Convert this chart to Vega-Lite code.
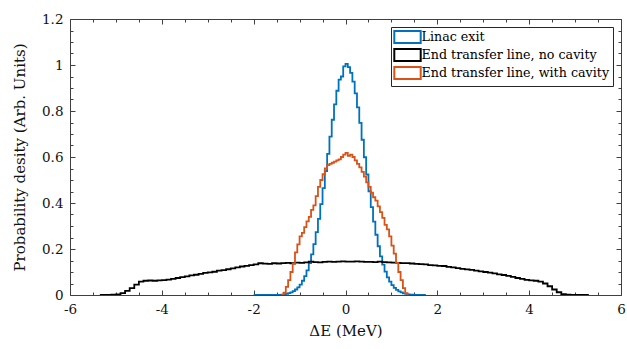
{
  "$schema": "https://vega.github.io/schema/vega-lite/v6.json",
  "width": 551,
  "height": 276,
  "autosize": {"type": "none"},
  "padding": {"left": 70, "top": 19, "right": 6, "bottom": 54},
  "background": "white",
  "config": {
    "view": {"stroke": null},
    "font": "DejaVu Serif",
    "axis": {"grid": false, "domainColor": "#404040", "domainWidth": 1, "tickColor": "#404040", "tickWidth": 1, "labelFont": "DejaVu Serif", "labelFontSize": 13.5, "labelColor": "#111111", "titleFont": "DejaVu Serif", "titleFontSize": 15, "titleFontWeight": "normal", "titleColor": "#111111", "labelOverlap": false, "labelFlush": false},
    "legend": {"labelFont": "DejaVu Serif"}
  },
  "datasets": {
    "h": [
      {"s": "Linac exit", "x": -2, "y": 0},
      {"s": "Linac exit", "x": -1.4, "y": 0.002},
      {"s": "Linac exit", "x": -1.35, "y": 0.003},
      {"s": "Linac exit", "x": -1.3, "y": 0.005},
      {"s": "Linac exit", "x": -1.25, "y": 0.008},
      {"s": "Linac exit", "x": -1.2, "y": 0.011},
      {"s": "Linac exit", "x": -1.15, "y": 0.017},
      {"s": "Linac exit", "x": -1.1, "y": 0.024},
      {"s": "Linac exit", "x": -1.05, "y": 0.033},
      {"s": "Linac exit", "x": -1.0, "y": 0.045},
      {"s": "Linac exit", "x": -0.95, "y": 0.062},
      {"s": "Linac exit", "x": -0.9, "y": 0.082},
      {"s": "Linac exit", "x": -0.85, "y": 0.107},
      {"s": "Linac exit", "x": -0.8, "y": 0.139},
      {"s": "Linac exit", "x": -0.75, "y": 0.177},
      {"s": "Linac exit", "x": -0.7, "y": 0.221},
      {"s": "Linac exit", "x": -0.65, "y": 0.273},
      {"s": "Linac exit", "x": -0.6, "y": 0.331},
      {"s": "Linac exit", "x": -0.55, "y": 0.395},
      {"s": "Linac exit", "x": -0.5, "y": 0.465},
      {"s": "Linac exit", "x": -0.45, "y": 0.539},
      {"s": "Linac exit", "x": -0.4, "y": 0.614},
      {"s": "Linac exit", "x": -0.35, "y": 0.689},
      {"s": "Linac exit", "x": -0.3, "y": 0.762},
      {"s": "Linac exit", "x": -0.25, "y": 0.829},
      {"s": "Linac exit", "x": -0.2, "y": 0.888},
      {"s": "Linac exit", "x": -0.15, "y": 0.936},
      {"s": "Linac exit", "x": -0.1, "y": 0.95},
      {"s": "Linac exit", "x": -0.05, "y": 0.994},
      {"s": "Linac exit", "x": 0.0, "y": 1.005},
      {"s": "Linac exit", "x": 0.05, "y": 0.991},
      {"s": "Linac exit", "x": 0.1, "y": 0.966},
      {"s": "Linac exit", "x": 0.15, "y": 0.928},
      {"s": "Linac exit", "x": 0.2, "y": 0.877},
      {"s": "Linac exit", "x": 0.25, "y": 0.816},
      {"s": "Linac exit", "x": 0.3, "y": 0.748},
      {"s": "Linac exit", "x": 0.35, "y": 0.675},
      {"s": "Linac exit", "x": 0.4, "y": 0.599},
      {"s": "Linac exit", "x": 0.45, "y": 0.524},
      {"s": "Linac exit", "x": 0.5, "y": 0.451},
      {"s": "Linac exit", "x": 0.55, "y": 0.382},
      {"s": "Linac exit", "x": 0.6, "y": 0.319},
      {"s": "Linac exit", "x": 0.65, "y": 0.262},
      {"s": "Linac exit", "x": 0.7, "y": 0.212},
      {"s": "Linac exit", "x": 0.75, "y": 0.168},
      {"s": "Linac exit", "x": 0.8, "y": 0.132},
      {"s": "Linac exit", "x": 0.85, "y": 0.102},
      {"s": "Linac exit", "x": 0.9, "y": 0.077},
      {"s": "Linac exit", "x": 0.95, "y": 0.058},
      {"s": "Linac exit", "x": 1.0, "y": 0.043},
      {"s": "Linac exit", "x": 1.05, "y": 0.031},
      {"s": "Linac exit", "x": 1.1, "y": 0.022},
      {"s": "Linac exit", "x": 1.15, "y": 0.016},
      {"s": "Linac exit", "x": 1.2, "y": 0.011},
      {"s": "Linac exit", "x": 1.25, "y": 0.007},
      {"s": "Linac exit", "x": 1.3, "y": 0.005},
      {"s": "Linac exit", "x": 1.35, "y": 0.003},
      {"s": "Linac exit", "x": 1.4, "y": 0.002},
      {"s": "Linac exit", "x": 1.45, "y": 0.001},
      {"s": "Linac exit", "x": 1.5, "y": 0},
      {"s": "Linac exit", "x": 1.75, "y": 0},

      {"s": "End transfer line, no cavity", "x": -5.35, "y": 0},
      {"s": "End transfer line, no cavity", "x": -5.1, "y": 0.001},
      {"s": "End transfer line, no cavity", "x": -5.0, "y": 0.003},
      {"s": "End transfer line, no cavity", "x": -4.9, "y": 0.008},
      {"s": "End transfer line, no cavity", "x": -4.8, "y": 0.018},
      {"s": "End transfer line, no cavity", "x": -4.7, "y": 0.03},
      {"s": "End transfer line, no cavity", "x": -4.6, "y": 0.045},
      {"s": "End transfer line, no cavity", "x": -4.5, "y": 0.058},
      {"s": "End transfer line, no cavity", "x": -4.4, "y": 0.062},
      {"s": "End transfer line, no cavity", "x": -4.3, "y": 0.063},
      {"s": "End transfer line, no cavity", "x": -4.2, "y": 0.062},
      {"s": "End transfer line, no cavity", "x": -4.1, "y": 0.064},
      {"s": "End transfer line, no cavity", "x": -4.0, "y": 0.065},
      {"s": "End transfer line, no cavity", "x": -3.9, "y": 0.067},
      {"s": "End transfer line, no cavity", "x": -3.8, "y": 0.07},
      {"s": "End transfer line, no cavity", "x": -3.7, "y": 0.074},
      {"s": "End transfer line, no cavity", "x": -3.6, "y": 0.078},
      {"s": "End transfer line, no cavity", "x": -3.5, "y": 0.081},
      {"s": "End transfer line, no cavity", "x": -3.4, "y": 0.085},
      {"s": "End transfer line, no cavity", "x": -3.3, "y": 0.088},
      {"s": "End transfer line, no cavity", "x": -3.2, "y": 0.092},
      {"s": "End transfer line, no cavity", "x": -3.1, "y": 0.096},
      {"s": "End transfer line, no cavity", "x": -3.0, "y": 0.098},
      {"s": "End transfer line, no cavity", "x": -2.9, "y": 0.101},
      {"s": "End transfer line, no cavity", "x": -2.8, "y": 0.106},
      {"s": "End transfer line, no cavity", "x": -2.7, "y": 0.108},
      {"s": "End transfer line, no cavity", "x": -2.6, "y": 0.112},
      {"s": "End transfer line, no cavity", "x": -2.5, "y": 0.116},
      {"s": "End transfer line, no cavity", "x": -2.4, "y": 0.12},
      {"s": "End transfer line, no cavity", "x": -2.3, "y": 0.124},
      {"s": "End transfer line, no cavity", "x": -2.2, "y": 0.127},
      {"s": "End transfer line, no cavity", "x": -2.1, "y": 0.13},
      {"s": "End transfer line, no cavity", "x": -2.0, "y": 0.133},
      {"s": "End transfer line, no cavity", "x": -1.9, "y": 0.138},
      {"s": "End transfer line, no cavity", "x": -1.8, "y": 0.136},
      {"s": "End transfer line, no cavity", "x": -1.7, "y": 0.135},
      {"s": "End transfer line, no cavity", "x": -1.6, "y": 0.138},
      {"s": "End transfer line, no cavity", "x": -1.5, "y": 0.137},
      {"s": "End transfer line, no cavity", "x": -1.4, "y": 0.139},
      {"s": "End transfer line, no cavity", "x": -1.3, "y": 0.14},
      {"s": "End transfer line, no cavity", "x": -1.2, "y": 0.138},
      {"s": "End transfer line, no cavity", "x": -1.1, "y": 0.141},
      {"s": "End transfer line, no cavity", "x": -1.0, "y": 0.14},
      {"s": "End transfer line, no cavity", "x": -0.9, "y": 0.142},
      {"s": "End transfer line, no cavity", "x": -0.8, "y": 0.145},
      {"s": "End transfer line, no cavity", "x": -0.7, "y": 0.143},
      {"s": "End transfer line, no cavity", "x": -0.6, "y": 0.142},
      {"s": "End transfer line, no cavity", "x": -0.5, "y": 0.144},
      {"s": "End transfer line, no cavity", "x": -0.4, "y": 0.145},
      {"s": "End transfer line, no cavity", "x": -0.3, "y": 0.144},
      {"s": "End transfer line, no cavity", "x": -0.2, "y": 0.145},
      {"s": "End transfer line, no cavity", "x": -0.1, "y": 0.146},
      {"s": "End transfer line, no cavity", "x": 0.0, "y": 0.145},
      {"s": "End transfer line, no cavity", "x": 0.1, "y": 0.145},
      {"s": "End transfer line, no cavity", "x": 0.2, "y": 0.146},
      {"s": "End transfer line, no cavity", "x": 0.3, "y": 0.145},
      {"s": "End transfer line, no cavity", "x": 0.4, "y": 0.144},
      {"s": "End transfer line, no cavity", "x": 0.5, "y": 0.144},
      {"s": "End transfer line, no cavity", "x": 0.6, "y": 0.143},
      {"s": "End transfer line, no cavity", "x": 0.7, "y": 0.145},
      {"s": "End transfer line, no cavity", "x": 0.8, "y": 0.143},
      {"s": "End transfer line, no cavity", "x": 0.9, "y": 0.142},
      {"s": "End transfer line, no cavity", "x": 1.0, "y": 0.141},
      {"s": "End transfer line, no cavity", "x": 1.1, "y": 0.14},
      {"s": "End transfer line, no cavity", "x": 1.2, "y": 0.139},
      {"s": "End transfer line, no cavity", "x": 1.3, "y": 0.139},
      {"s": "End transfer line, no cavity", "x": 1.4, "y": 0.137},
      {"s": "End transfer line, no cavity", "x": 1.5, "y": 0.135},
      {"s": "End transfer line, no cavity", "x": 1.6, "y": 0.134},
      {"s": "End transfer line, no cavity", "x": 1.7, "y": 0.133},
      {"s": "End transfer line, no cavity", "x": 1.8, "y": 0.13},
      {"s": "End transfer line, no cavity", "x": 1.9, "y": 0.129},
      {"s": "End transfer line, no cavity", "x": 2.0, "y": 0.127},
      {"s": "End transfer line, no cavity", "x": 2.1, "y": 0.126},
      {"s": "End transfer line, no cavity", "x": 2.2, "y": 0.122},
      {"s": "End transfer line, no cavity", "x": 2.3, "y": 0.12},
      {"s": "End transfer line, no cavity", "x": 2.4, "y": 0.117},
      {"s": "End transfer line, no cavity", "x": 2.5, "y": 0.114},
      {"s": "End transfer line, no cavity", "x": 2.6, "y": 0.111},
      {"s": "End transfer line, no cavity", "x": 2.7, "y": 0.109},
      {"s": "End transfer line, no cavity", "x": 2.8, "y": 0.106},
      {"s": "End transfer line, no cavity", "x": 2.9, "y": 0.103},
      {"s": "End transfer line, no cavity", "x": 3.0, "y": 0.1},
      {"s": "End transfer line, no cavity", "x": 3.1, "y": 0.097},
      {"s": "End transfer line, no cavity", "x": 3.2, "y": 0.094},
      {"s": "End transfer line, no cavity", "x": 3.3, "y": 0.09},
      {"s": "End transfer line, no cavity", "x": 3.4, "y": 0.087},
      {"s": "End transfer line, no cavity", "x": 3.5, "y": 0.083},
      {"s": "End transfer line, no cavity", "x": 3.6, "y": 0.079},
      {"s": "End transfer line, no cavity", "x": 3.7, "y": 0.074},
      {"s": "End transfer line, no cavity", "x": 3.8, "y": 0.07},
      {"s": "End transfer line, no cavity", "x": 3.9, "y": 0.066},
      {"s": "End transfer line, no cavity", "x": 4.0, "y": 0.064},
      {"s": "End transfer line, no cavity", "x": 4.1, "y": 0.062},
      {"s": "End transfer line, no cavity", "x": 4.2, "y": 0.058},
      {"s": "End transfer line, no cavity", "x": 4.3, "y": 0.05},
      {"s": "End transfer line, no cavity", "x": 4.4, "y": 0.038},
      {"s": "End transfer line, no cavity", "x": 4.5, "y": 0.024},
      {"s": "End transfer line, no cavity", "x": 4.6, "y": 0.012},
      {"s": "End transfer line, no cavity", "x": 4.7, "y": 0.004},
      {"s": "End transfer line, no cavity", "x": 4.8, "y": 0.001},
      {"s": "End transfer line, no cavity", "x": 4.9, "y": 0},
      {"s": "End transfer line, no cavity", "x": 5.3, "y": 0},

      {"s": "End transfer line, with cavity", "x": -1.4, "y": 0},
      {"s": "End transfer line, with cavity", "x": -1.35, "y": 0.01},
      {"s": "End transfer line, with cavity", "x": -1.3, "y": 0.035},
      {"s": "End transfer line, with cavity", "x": -1.25, "y": 0.065},
      {"s": "End transfer line, with cavity", "x": -1.2, "y": 0.1},
      {"s": "End transfer line, with cavity", "x": -1.15, "y": 0.135},
      {"s": "End transfer line, with cavity", "x": -1.1, "y": 0.185},
      {"s": "End transfer line, with cavity", "x": -1.05, "y": 0.22},
      {"s": "End transfer line, with cavity", "x": -1.0, "y": 0.255},
      {"s": "End transfer line, with cavity", "x": -0.95, "y": 0.27},
      {"s": "End transfer line, with cavity", "x": -0.9, "y": 0.295},
      {"s": "End transfer line, with cavity", "x": -0.85, "y": 0.32},
      {"s": "End transfer line, with cavity", "x": -0.8, "y": 0.34},
      {"s": "End transfer line, with cavity", "x": -0.75, "y": 0.37},
      {"s": "End transfer line, with cavity", "x": -0.7, "y": 0.39},
      {"s": "End transfer line, with cavity", "x": -0.65, "y": 0.43},
      {"s": "End transfer line, with cavity", "x": -0.6, "y": 0.47},
      {"s": "End transfer line, with cavity", "x": -0.55, "y": 0.5},
      {"s": "End transfer line, with cavity", "x": -0.5, "y": 0.525},
      {"s": "End transfer line, with cavity", "x": -0.45, "y": 0.55},
      {"s": "End transfer line, with cavity", "x": -0.4, "y": 0.565},
      {"s": "End transfer line, with cavity", "x": -0.35, "y": 0.57},
      {"s": "End transfer line, with cavity", "x": -0.3, "y": 0.575},
      {"s": "End transfer line, with cavity", "x": -0.25, "y": 0.58},
      {"s": "End transfer line, with cavity", "x": -0.2, "y": 0.585},
      {"s": "End transfer line, with cavity", "x": -0.15, "y": 0.59},
      {"s": "End transfer line, with cavity", "x": -0.1, "y": 0.6},
      {"s": "End transfer line, with cavity", "x": -0.05, "y": 0.61},
      {"s": "End transfer line, with cavity", "x": 0.0, "y": 0.618},
      {"s": "End transfer line, with cavity", "x": 0.05, "y": 0.605},
      {"s": "End transfer line, with cavity", "x": 0.1, "y": 0.61},
      {"s": "End transfer line, with cavity", "x": 0.15, "y": 0.6},
      {"s": "End transfer line, with cavity", "x": 0.2, "y": 0.585},
      {"s": "End transfer line, with cavity", "x": 0.25, "y": 0.57},
      {"s": "End transfer line, with cavity", "x": 0.3, "y": 0.555},
      {"s": "End transfer line, with cavity", "x": 0.35, "y": 0.535},
      {"s": "End transfer line, with cavity", "x": 0.4, "y": 0.515},
      {"s": "End transfer line, with cavity", "x": 0.45, "y": 0.49},
      {"s": "End transfer line, with cavity", "x": 0.5, "y": 0.47},
      {"s": "End transfer line, with cavity", "x": 0.55, "y": 0.445},
      {"s": "End transfer line, with cavity", "x": 0.6, "y": 0.425},
      {"s": "End transfer line, with cavity", "x": 0.65, "y": 0.41},
      {"s": "End transfer line, with cavity", "x": 0.7, "y": 0.385},
      {"s": "End transfer line, with cavity", "x": 0.75, "y": 0.36},
      {"s": "End transfer line, with cavity", "x": 0.8, "y": 0.335},
      {"s": "End transfer line, with cavity", "x": 0.85, "y": 0.305},
      {"s": "End transfer line, with cavity", "x": 0.9, "y": 0.285},
      {"s": "End transfer line, with cavity", "x": 0.95, "y": 0.255},
      {"s": "End transfer line, with cavity", "x": 1.0, "y": 0.215},
      {"s": "End transfer line, with cavity", "x": 1.05, "y": 0.18},
      {"s": "End transfer line, with cavity", "x": 1.1, "y": 0.14},
      {"s": "End transfer line, with cavity", "x": 1.15, "y": 0.1},
      {"s": "End transfer line, with cavity", "x": 1.2, "y": 0.065},
      {"s": "End transfer line, with cavity", "x": 1.25, "y": 0.03},
      {"s": "End transfer line, with cavity", "x": 1.3, "y": 0.008},
      {"s": "End transfer line, with cavity", "x": 1.35, "y": 0}
    ]
  },
  "data": {"name": "h"},
  "layer": [
    {
      "mark": {"type": "line", "interpolate": "step-after", "strokeWidth": 1.8, "clip": true},
      "encoding": {
        "x": {"field": "x", "type": "quantitative", "scale": {"domain": [-6, 6], "nice": false, "zero": false},
          "axis": {"orient": "bottom", "title": "ΔE (MeV)", "values": [-6,-5.5,-5,-4.5,-4,-3.5,-3,-2.5,-2,-1.5,-1,-0.5,0,0.5,1,1.5,2,2.5,3,3.5,4,4.5,5,5.5,6],
            "labelExpr": "datum.value % 2 === 0 ? toString(datum.value) : ''",
            "tickSize": {"condition": {"test": "datum.value % 2 === 0", "value": -5}, "value": -3},
            "labelPadding": 12, "titlePadding": 6}},
        "y": {"field": "y", "type": "quantitative", "scale": {"domain": [0, 1.2], "nice": false},
          "axis": {"orient": "left", "title": "Probability desity (Arb. Units)", "values": [0,0.05,0.1,0.15,0.2,0.25,0.3,0.35,0.4,0.45,0.5,0.55,0.6,0.65,0.7,0.75,0.8,0.85,0.9,0.95,1,1.05,1.1,1.15,1.2],
            "labelExpr": "round(datum.value*100) % 20 === 0 ? toString(datum.value) : ''",
            "tickSize": {"condition": {"test": "round(datum.value*100) % 20 === 0", "value": -5}, "value": -3},
            "labelPadding": 12, "titlePadding": 14}},
        "color": {"field": "s", "type": "nominal",
          "scale": {"domain": ["Linac exit", "End transfer line, no cavity", "End transfer line, with cavity"], "range": ["#0072BD", "#000000", "#D95319"]},
          "legend": {"title": null, "orient": "top-right", "offset": 8, "symbolType": "M-2.2,-1H2.2V1H-2.2Z", "symbolSize": 144, "symbolOffset": 6.5, "symbolStrokeWidth": 2, "symbolFillColor": "white",
            "labelFontSize": 12.7, "labelColor": "#000000", "labelLimit": 400, "labelOffset": 7,
            "strokeColor": "#262626", "fillColor": "white", "padding": 3, "rowPadding": -2}}
      }
    },
    {
      "mark": {"type": "point", "opacity": 0},
      "encoding": {
        "x": {"field": "x", "type": "quantitative",
          "axis": {"orient": "top", "title": null, "labels": false, "values": [-6,-5.5,-5,-4.5,-4,-3.5,-3,-2.5,-2,-1.5,-1,-0.5,0,0.5,1,1.5,2,2.5,3,3.5,4,4.5,5,5.5,6],
            "tickSize": {"condition": {"test": "datum.value % 2 === 0", "value": -5}, "value": -3}}},
        "y": {"field": "y", "type": "quantitative",
          "axis": {"orient": "right", "title": null, "labels": false, "values": [0,0.05,0.1,0.15,0.2,0.25,0.3,0.35,0.4,0.45,0.5,0.55,0.6,0.65,0.7,0.75,0.8,0.85,0.9,0.95,1,1.05,1.1,1.15,1.2],
            "tickSize": {"condition": {"test": "round(datum.value*100) % 20 === 0", "value": -5}, "value": -3}}}
      }
    }
  ],
  "resolve": {"axis": {"x": "independent", "y": "independent"}}
}
